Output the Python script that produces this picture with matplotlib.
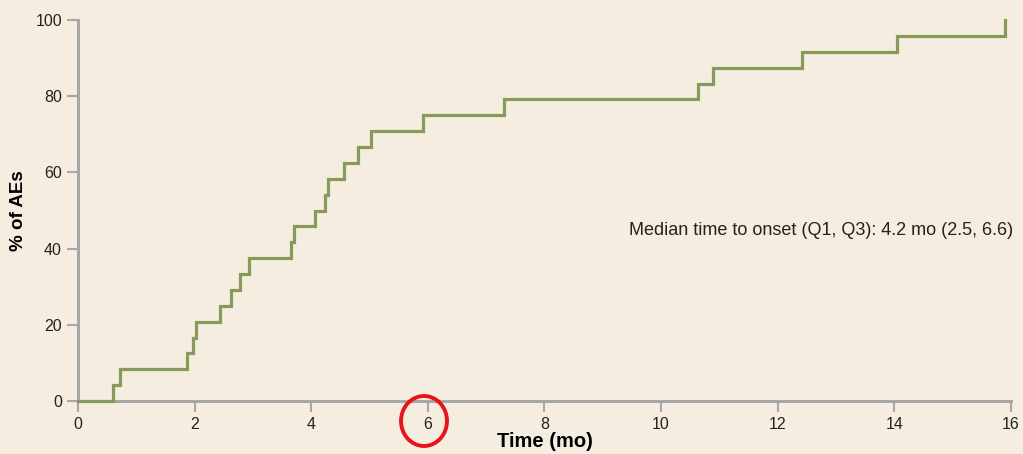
import numpy as np
import matplotlib.pyplot as plt
from matplotlib.patches import Ellipse

plt.rcParams["font.family"] = ["Liberation Sans", "DejaVu Sans"]

# Onset times (months) of each AE and cumulative percentage after it
onset_mo = [0.60, 0.72, 1.87, 1.97, 2.02, 2.43, 2.62, 2.78, 2.93, 3.65, 3.70,
            4.07, 4.24, 4.29, 4.56, 4.80, 5.02, 5.91, 7.31, 10.63, 10.89,
            12.41, 14.05, 15.90]
n_events = len(onset_mo)
cum_pct = [100.0 * (i + 1) / n_events for i in range(n_events)]

xticks = [0, 2, 4, 6, 8, 10, 12, 14, 16]
yticks = [0, 20, 40, 60, 80, 100]
note = "Median time to onset (Q1, Q3): 4.2 mo (2.5, 6.6)"

bg = "#f5ede0"
line_col = "#879a5a"
axis_col = "#a7a7a7"

fig = plt.figure(figsize=(10.23, 4.54), dpi=100, facecolor=bg)
ax = fig.add_axes([0.0762, 0.1167, 0.912, 0.839])
ax.set_facecolor(bg)

xs = [0.0] + onset_mo
ys = [0.0] + cum_pct
ax.step(xs, ys, where="post", color=line_col, lw=2.3, solid_joinstyle="miter",
        zorder=3, clip_on=False)

ax.set_xlim(0, 16)
ax.set_ylim(0, 100)
ax.set_xticks(xticks)
ax.set_yticks(yticks)
ax.tick_params(colors=axis_col, width=1.5, length=8, labelsize=11.5, labelcolor="#222222")

for s in ["top", "right"]:
    ax.spines[s].set_visible(False)
for s in ["left", "bottom"]:
    ax.spines[s].set_color(axis_col)
    ax.spines[s].set_linewidth(2.2)

ax.set_xlabel("Time (mo)", fontsize=14.5, fontweight="bold", labelpad=0)
ax.set_ylabel("% of AEs", fontsize=13.5, fontweight="bold", labelpad=6)

ax.text(16.03, 44.7, note, ha="right", va="center", fontsize=13, color="#222222")

# highlight the 6-month tick label
circ = Ellipse((424 / 1023, 1 - 421 / 454), 46 / 1023, 50 / 454,
               transform=fig.transFigure, fill=False, edgecolor="#e8141c", lw=2.8)
fig.patches.append(circ)

fig.savefig("out.png", dpi=100, facecolor=bg)
